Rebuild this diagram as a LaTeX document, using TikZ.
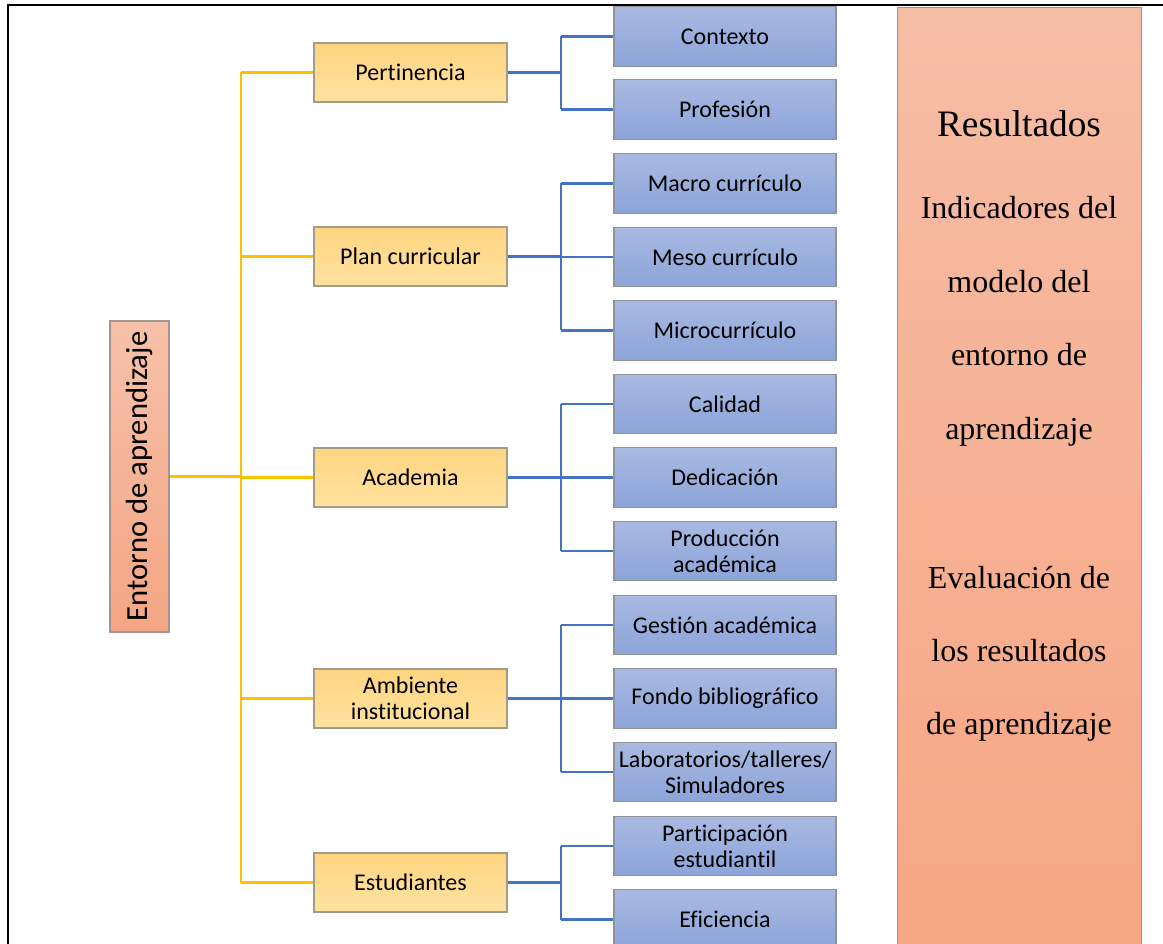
\documentclass[tikz,border=0pt]{standalone}
\usepackage{fontspec}
\setmainfont[Ligatures=NoCommon]{Carlito}
\newfontfamily\panelfont{Liberation Serif}
\definecolor{goldline}{HTML}{FFC000}
\definecolor{blueline}{HTML}{4472C4}
\definecolor{leafTop}{HTML}{AAB9E1}
\definecolor{leafBot}{HTML}{8BA4D9}
\definecolor{leafEdge}{HTML}{8E939C}
\definecolor{midTop}{HTML}{FFD581}
\definecolor{midBot}{HTML}{FFE2A0}
\definecolor{midEdge}{HTML}{A39D88}
\definecolor{rootLight}{HTML}{F7C1AA}
\definecolor{rootDark}{HTML}{F4A583}
\definecolor{rootEdge}{HTML}{A4968F}
\definecolor{panelTop}{HTML}{F6BDA6}
\definecolor{panelBot}{HTML}{F6A682}
\definecolor{panelEdge}{HTML}{ED7D31}
\begin{document}
\begin{tikzpicture}[x=0.75pt,y=-0.75pt,
  leaf/.style={draw=leafEdge, line width=0.8pt, top color=leafTop, bottom color=leafBot,
    minimum width=166.5pt, minimum height=44.5pt, inner sep=0pt, align=center,
    font=\fontsize{18}{19.5}\selectfont},
  mid/.style={draw=midEdge, line width=0.8pt, top color=midTop, bottom color=midBot,
    minimum width=144.75pt, minimum height=44.25pt, inner sep=0pt, align=center,
    font=\fontsize{18}{19.5}\selectfont},
  rootbox/.style={draw=rootEdge, line width=0.8pt, top color=rootLight, bottom color=rootDark,
    minimum width=233.25pt, minimum height=44.25pt, inner sep=0pt, rotate=90,
    font=\fontsize{23}{24}\selectfont},
  panelbox/.style={draw=panelEdge, line width=0.6pt, top color=panelTop, bottom color=panelBot,
    minimum width=183pt, minimum height=720pt, inner sep=0pt},
  paneltext/.style={anchor=base, inner sep=0pt, font=\panelfont\fontsize{24}{28}\selectfont},
  gold/.style={draw=goldline, line width=1.9pt},
  blue/.style={draw=blueline, line width=1.8pt}]
\clip (0,0) rectangle (1163,944);
\fill[white] (0,0) rectangle (1163,944);

% outer frame (top and left edges)
\draw[line width=1.6pt] (8,945) -- (8,5) -- (1164,5);

% results panel
\node[panelbox, anchor=north west] (panel) at (897,7) {};
\node[paneltext, font=\panelfont\fontsize{28}{30}\selectfont] (r0) at (1019,137) {Resultados};
\node[paneltext] (r1) at (1019,219) {Indicadores del};
\node[paneltext] (r2) at (1019,293) {modelo del};
\node[paneltext] (r3) at (1019,366) {entorno de};
\node[paneltext] (r4) at (1019,440) {aprendizaje};
\node[paneltext] (r5) at (1019,588) {Evaluación de};
\node[paneltext] (r6) at (1019,661) {los resultados};
\node[paneltext] (r7) at (1019,734) {de aprendizaje};

% root
\node[rootbox] (root) at (139.5,476.5) {Entorno de aprendizaje};

% second level
\node[mid] (pert) at (410.5,72.5) {Pertinencia};
\node[mid] (plan) at (410.5,256.5) {Plan curricular};
\node[mid] (acad) at (410.5,477.5) {Academia};
\node[mid] (amb)  at (410.5,698.5) {Ambiente\\institucional};
\node[mid] (est)  at (410.5,882.5) {Estudiantes};

% leaves
\node[leaf] (l1)  at (725,36.5)  {Contexto};
\node[leaf] (l2)  at (725,109.5) {Profesión};
\node[leaf] (l3)  at (725,183.5) {Macro currículo};
\node[leaf] (l4)  at (725,257)   {Meso currículo};
\node[leaf] (l5)  at (725,330.5) {Microcurrículo};
\node[leaf] (l6)  at (725,404)   {Calidad};
\node[leaf] (l7)  at (725,477.5) {Dedicación};
\node[leaf] (l8)  at (725,551)   {Producción\\académica};
\node[leaf] (l9)  at (725,625)   {Gestión académica};
\node[leaf] (l10) at (725,698.5) {Fondo bibliográfico};
\node[leaf] (l11) at (725,772)   {Laboratorios/talleres/\\Simuladores};
\node[leaf] (l12) at (725,846)   {Participación\\estudiantil};
\node[leaf] (l13) at (725,919.5) {Eficiencia};

% bus positions
\coordinate (trunk) at (241,0);
\coordinate (bus) at (561,0);

% gold tree
\draw[gold] (pert.west -| trunk) -- (est.west -| trunk);
\draw[gold] (root.south) -- (root.south -| trunk);
\foreach \n in {pert,plan,acad,amb,est}
  \draw[gold] (\n.west -| trunk) -- (\n.west);

% blue trees
\foreach \p/\a/\b/\kids in {pert/l1/l2/{l1,l2}, plan/l3/l5/{l3,l4,l5}, acad/l6/l8/{l6,l7,l8},
                            amb/l9/l11/{l9,l10,l11}, est/l12/l13/{l12,l13}}{
  \draw[blue] (\p.east) -- (\p.east -| bus);
  \draw[blue] (\a.west -| bus) -- (\b.west -| bus);
  \foreach \k in \kids
    \draw[blue] (\k.west -| bus) -- (\k.west);
}
\end{tikzpicture}
\end{document}
